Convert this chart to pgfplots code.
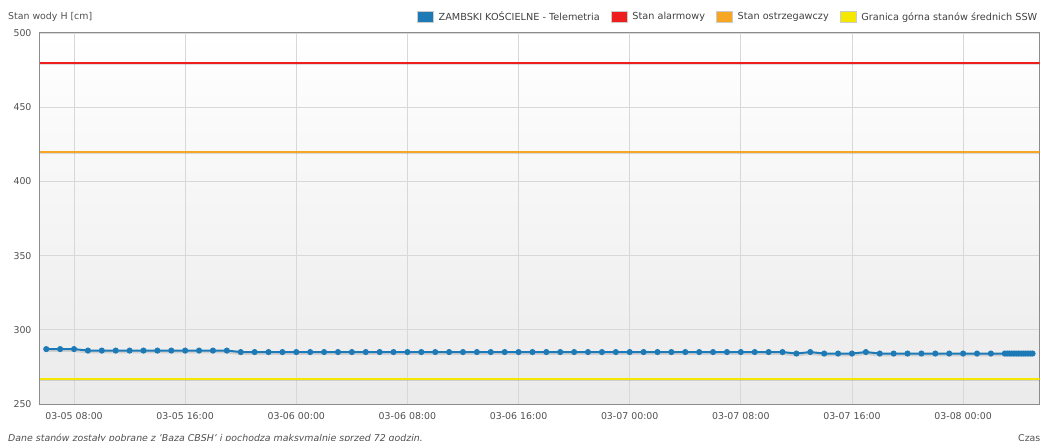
\documentclass[border=0pt]{standalone}
\usepackage{fontspec}
\setmainfont{DejaVu Sans}
\usepackage{pgfplots}
\usepackage{pgfplotstable}
\pgfplotsset{compat=1.18}
\definecolor{series}{RGB}{29,122,182}
\definecolor{alarm}{RGB}{238,30,30}
\definecolor{warn}{RGB}{246,166,35}
\definecolor{ssw}{RGB}{245,232,0}
\definecolor{gridc}{RGB}{216,216,216}
\definecolor{framec}{RGB}{140,140,140}
\definecolor{txt}{RGB}{80,80,80}
\pgfplotstableread{
h v
6 287
7 287
8 287
9 286
10 286
11 286
12 286
13 286
14 286
15 286
16 286
17 286
18 286
19 286
20 285
21 285
22 285
23 285
24 285
25 285
26 285
27 285
28 285
29 285
30 285
31 285
32 285
33 285
34 285
35 285
36 285
37 285
38 285
39 285
40 285
41 285
42 285
43 285
44 285
45 285
46 285
47 285
48 285
49 285
50 285
51 285
52 285
53 285
54 285
55 285
56 285
57 285
58 285
59 285
60 284
61 285
62 284
63 284
64 284
65 285
66 284
67 284
68 284
69 284
70 284
71 284
72 284
73 284
74 284
75 284
75.167 284
75.333 284
75.5 284
75.667 284
75.833 284
76 284
76.167 284
76.333 284
76.5 284
76.667 284
76.833 284
77 284
}\zambski
\begin{document}
\begin{tikzpicture}
\begin{axis}[
  at={(0pt,0pt)}, anchor=south west,
  scale only axis, width=999.5pt, height=371pt,
  xmin=5.55, xmax=77.5, ymin=250, ymax=500,
  xtick={8,16,...,72},
  xticklabels={03-05 08:00,03-05 16:00,03-06 00:00,03-06 08:00,03-06 16:00,03-07 00:00,03-07 08:00,03-07 16:00,03-08 00:00},
  ytick={250,300,...,500},
  grid=major, major grid style={draw=gridc, line width=0.8pt},
  major tick length=0pt,
  axis line style={draw=framec, line width=1pt},
  tick label style={font=\fontsize{9.4}{10}\selectfont, text=txt},
  yticklabel style={xshift=-5pt},
  xticklabel style={yshift=-5pt},
  /pgf/number format/assume math mode=true,
  axis background/.style={top color=white, bottom color=black!8},
  legend columns=4,
  legend style={at={(1,1)}, anchor=east, xshift=-1pt, yshift=16pt,
    draw=none, fill=none, inner sep=0pt,
    font=\fontsize{9.7}{10}\selectfont, text=black!75,
    nodes={inner sep=1pt},
    /tikz/every odd column/.append style={column sep=4pt},
    /tikz/every even column/.append style={column sep=10pt}},
  legend image code/.code={\filldraw[#1, line width=0.6pt, draw=black!20, mark=none] (0pt,-5.2pt) rectangle (16pt,5.2pt);},
]
\addplot[forget plot, black, opacity=0.12, line width=3.4pt, mark=none, yshift=-1.2pt] table[x=h,y=v] {\zambski};
\addplot[color=series, line width=2pt, mark=*, mark size=2pt, mark options={fill=series, draw=series}] table[x=h,y=v] {\zambski};
\addlegendentry{ZAMBSKI KOŚCIELNE - Telemetria}
\addplot[forget plot, black, opacity=0.12, line width=3pt, mark=none, yshift=-1.2pt] coordinates {(5.55,480) (77.5,480)};
\addplot[color=alarm, line width=2pt, mark=none] coordinates {(5.55,480) (77.5,480)};
\addlegendentry{Stan alarmowy}
\addplot[forget plot, black, opacity=0.12, line width=3pt, mark=none, yshift=-1.2pt] coordinates {(5.55,420) (77.5,420)};
\addplot[color=warn, line width=2pt, mark=none] coordinates {(5.55,420) (77.5,420)};
\addlegendentry{Stan ostrzegawczy}
\addplot[forget plot, black, opacity=0.12, line width=3pt, mark=none, yshift=-1.2pt] coordinates {(5.55,267) (77.5,267)};
\addplot[color=ssw, line width=2pt, mark=none] coordinates {(5.55,267) (77.5,267)};
\addlegendentry{Granica górna stanów średnich SSW}
\end{axis}
\node[anchor=base west, inner sep=0pt, font=\fontsize{9.4}{10}\selectfont, text=txt] at (-32pt,384.5pt) {Stan wody H [cm]};
\node[anchor=base west, inner sep=0pt, font=\fontsize{9.4}{10}\selectfont\itshape, text=txt] at (-32pt,-37pt) {Dane stanów zostały pobrane z 'Baza CBSH' i pochodzą maksymalnie sprzed 72 godzin.};
\node[anchor=base west, inner sep=0pt, font=\fontsize{9.4}{10}\selectfont, text=txt] at (978pt,-37pt) {Czas};
\pgfresetboundingbox
\path[use as bounding box] (-40pt,-37pt) rectangle (1000pt,404pt);
\end{tikzpicture}
\end{document}
